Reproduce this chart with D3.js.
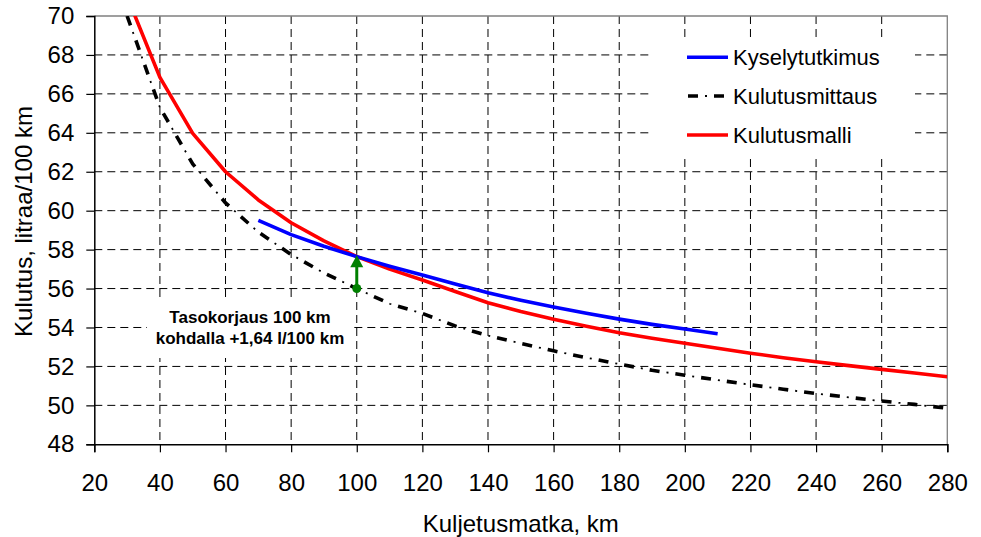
<!DOCTYPE html>
<html>
<head>
<meta charset="utf-8">
<script src="https://cdn.jsdelivr.net/npm/d3@7/dist/d3.min.js"></script>
<style>
  html, body { margin: 0; padding: 0; background: #fff; }
  svg { display: block; font-family: "Liberation Sans", Arial, sans-serif; }
</style>
</head>
<body>
<svg id="chart" width="981" height="537"></svg>
<script>
// Kuljetusmatka (km) for each series
const distModel = [30, 40, 50, 60, 70, 80, 90, 100, 110, 120, 130, 140, 150, 160, 170, 180, 190, 200, 210, 220, 230, 240, 250, 260, 270, 280];
const distSurvey = [70, 80, 90, 100, 110, 120, 130, 140, 150, 160, 170, 180, 190, 200, 210];
const distMeasured = [30, 40, 50, 60, 70, 80, 90, 100, 110, 120, 130, 140, 150, 160, 170, 180, 190, 200, 210, 220, 230, 240, 250, 260, 270, 280];

// Kulutus, litraa/100 km
const survey = [59.5, 58.77, 58.17, 57.64, 57.15, 56.7, 56.23, 55.78, 55.4, 55.05, 54.73, 54.43, 54.16, 53.92, 53.68];
const measured = [70.0, 65.3, 62.4, 60.4, 58.9, 57.75, 56.8, 56.0, 55.22, 54.72, 54.08, 53.58, 53.18, 52.8, 52.45, 52.12, 51.8, 51.55, 51.3, 51.06, 50.83, 50.61, 50.41, 50.22, 50.05, 49.85];
const model = [71.0, 66.85, 63.97, 62.0, 60.55, 59.38, 58.45, 57.64, 57.0, 56.44, 55.85, 55.27, 54.82, 54.42, 54.06, 53.73, 53.45, 53.19, 52.93, 52.68, 52.45, 52.24, 52.04, 51.85, 51.66, 51.47];

const seriesNames = ["Kyselytutkimus", "Kulutusmittaus", "Kulutusmalli"];
const xTicks = [20, 40, 60, 80, 100, 120, 140, 160, 180, 200, 220, 240, 260, 280];
const yTicks = [48, 50, 52, 54, 56, 58, 60, 62, 64, 66, 68, 70];

// Level correction at 100 km
const corrAt = 100;
const corrFrom = 56.0;
const corrTo = 57.64;
const noteLines = ["Tasokorjaus 100 km", "kohdalla +1,64 l/100 km"];

const xTitle = "Kuljetusmatka, km";
const yTitle = "Kulutus, litraa/100 km";

const svg = d3.select("#chart");
const L = 94.3, R = 947.3, T = 16, B = 444.3;

const x = d3.scaleLinear().domain([20, 280]).range([L, R]);
const y = d3.scaleLinear().domain([48, 70]).range([B, T]);

// clip for the plotting area
svg.append("defs").append("clipPath").attr("id", "plotclip")
  .append("rect").attr("x", L).attr("y", T).attr("width", R - L).attr("height", B - T);

// grid
const grid = svg.append("g");
grid.selectAll("line.h").data(yTicks.filter(v => v > 48 && v < 70)).join("line")
  .attr("x1", L).attr("x2", R).attr("y1", d => y(d)).attr("y2", d => y(d))
  .attr("stroke", "#000").attr("stroke-width", 1).attr("stroke-dasharray", "8,5");
grid.selectAll("line.v").data(xTicks.filter(v => v > 20 && v < 280)).join("line")
  .attr("y1", T).attr("y2", B).attr("x1", d => x(d)).attr("x2", d => x(d))
  .attr("stroke", "#000").attr("stroke-width", 1).attr("stroke-dasharray", "8,5");

// top and right frame
svg.append("path")
  .attr("d", `M${L},${T}H${R}V${B}`)
  .attr("fill", "none").attr("stroke", "#808080").attr("stroke-width", 1.3);

// legend background
const legX = 652, legY = 38;
svg.append("rect").attr("x", legX).attr("y", legY).attr("width", 263).attr("height", 117).attr("fill", "#fff");

// note background
svg.append("rect").attr("x", 147).attr("y", 297).attr("width", 206).attr("height", 61).attr("fill", "#fff");

const line = (xs) => d3.line().x((d, i) => x(xs[i])).y(d => y(d));

const plot = svg.append("g").attr("clip-path", "url(#plotclip)");

// Kulutusmittaus: long dash - dot
function dashDot(sel, d) {
  sel.append("path").attr("d", d).attr("fill", "none")
    .attr("stroke", "#000").attr("stroke-width", 3.6).attr("stroke-dasharray", "10,16");
  sel.append("path").attr("d", d).attr("fill", "none")
    .attr("stroke", "#000").attr("stroke-width", 1.8).attr("stroke-dasharray", "2,24").attr("stroke-dashoffset", 9);
}
dashDot(plot, line(distMeasured)(measured));

plot.append("path").attr("d", line(distModel)(model))
  .attr("fill", "none").attr("stroke", "#ff0000").attr("stroke-width", 3.6).attr("stroke-linejoin", "round");
plot.append("path").attr("d", line(distSurvey)(survey))
  .attr("fill", "none").attr("stroke", "#0000ff").attr("stroke-width", 3.6).attr("stroke-linejoin", "round");

// correction arrow
const green = "#008000";
const ax = x(corrAt), y0 = y(corrFrom), y1 = y(corrTo);
svg.append("line").attr("x1", ax).attr("x2", ax).attr("y1", y0).attr("y2", y1 + 9)
  .attr("stroke", green).attr("stroke-width", 3);
svg.append("circle").attr("cx", ax).attr("cy", y0).attr("r", 4.5).attr("fill", green);
svg.append("path").attr("d", `M${ax},${y1 - 1.5}L${ax + 6.5},${y1 + 10.5}L${ax - 6.5},${y1 + 10.5}Z`).attr("fill", green);

svg.append("text").attr("x", 250).attr("y", 322.5)
  .attr("text-anchor", "middle").attr("font-size", 17).attr("font-weight", "bold")
  .selectAll("tspan").data(noteLines).join("tspan")
  .attr("x", 250).attr("dy", (d, i) => i === 0 ? 0 : 21).text(d => d);

// axes
const yAxis = svg.append("g").attr("transform", `translate(${L},0)`)
  .call(d3.axisLeft(y).tickValues(yTicks).tickSize(8).tickPadding(12).tickFormat(d3.format("d")));
const xAxis = svg.append("g").attr("transform", `translate(0,${B})`)
  .call(d3.axisBottom(x).tickValues(xTicks).tickSize(8).tickPadding(22).tickFormat(d3.format("d")));
[yAxis, xAxis].forEach(a => {
  a.selectAll("text").attr("font-size", 24).attr("fill", "#000")
    .attr("font-family", "'Liberation Sans', Arial, sans-serif");
  a.selectAll("line").attr("stroke", "#000").attr("stroke-width", 1.2);
  a.select(".domain").attr("stroke", "#000").attr("stroke-width", 1.5);
});
xAxis.selectAll("text").attr("dy", "0.7em");

// axis titles
svg.append("text").attr("x", (L + R) / 2).attr("y", 531.5)
  .attr("text-anchor", "middle").attr("font-size", 24).text(xTitle);
svg.append("text").attr("transform", "translate(31.5,221.5) rotate(-90)")
  .attr("text-anchor", "middle").attr("font-size", 24).text(yTitle);

// legend
const legRows = [57.3, 96, 135];
const leg = svg.append("g");
leg.append("line").attr("x1", 687).attr("x2", 728).attr("y1", legRows[0]).attr("y2", legRows[0])
  .attr("stroke", "#0000ff").attr("stroke-width", 3.6);
dashDot(leg, `M688,${legRows[1]}H728`);
leg.append("line").attr("x1", 687).attr("x2", 728).attr("y1", legRows[2]).attr("y2", legRows[2])
  .attr("stroke", "#ff0000").attr("stroke-width", 3.6);
leg.selectAll("text").data(seriesNames).join("text")
  .attr("x", 733).attr("y", (d, i) => legRows[i]).attr("dy", "0.36em")
  .attr("font-size", 22).text(d => d);
</script>
</body>
</html>
